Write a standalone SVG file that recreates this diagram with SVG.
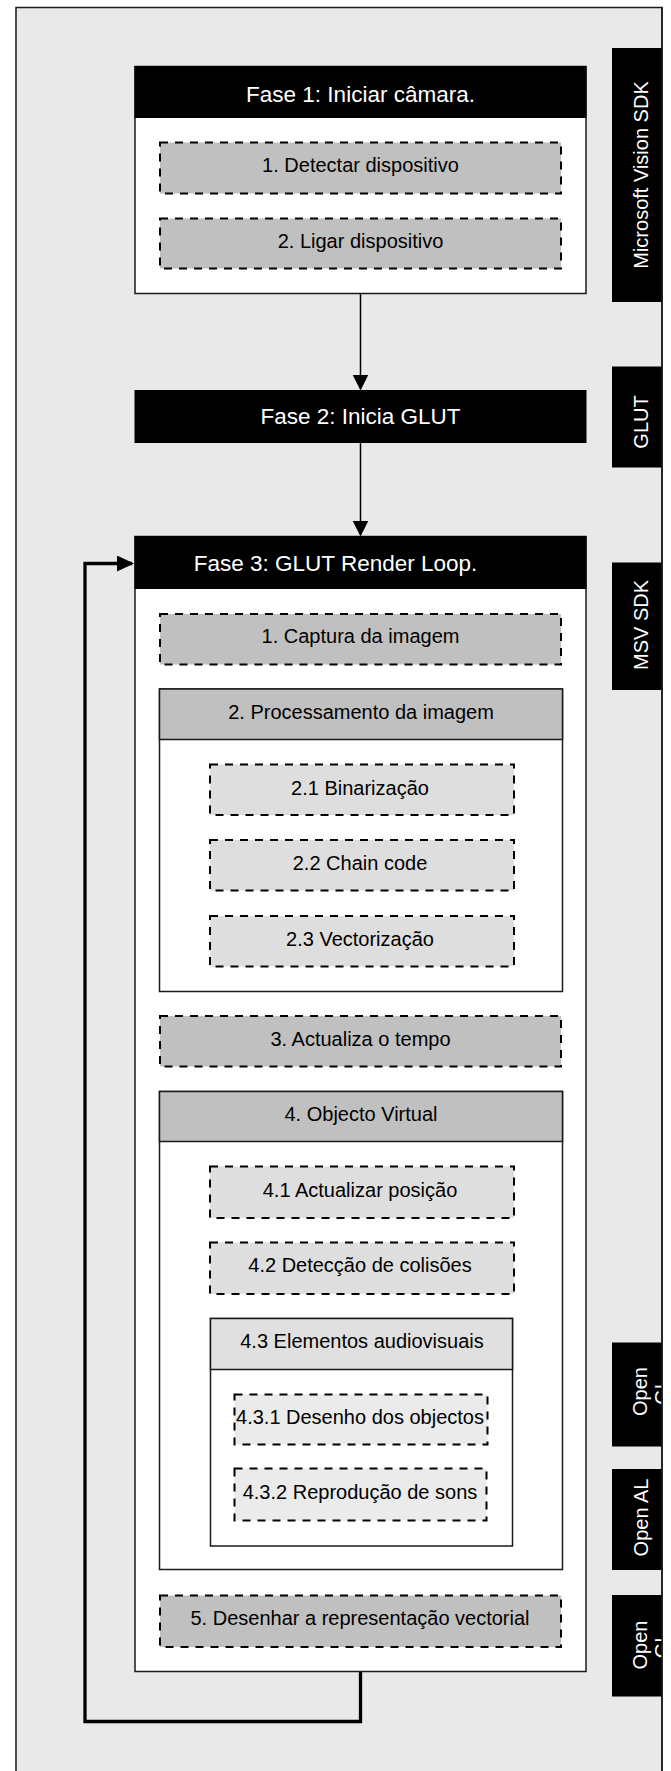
<svg xmlns="http://www.w3.org/2000/svg" width="671" height="1771" viewBox="0 0 671 1771">
<style>
text{font-family:"Liberation Sans",Arial,sans-serif;}
.hd{font-size:22.5px;fill:#fff;text-anchor:middle;}
.t{font-size:20px;fill:#000;text-anchor:middle;}
.side{font-size:20px;fill:#fff;text-anchor:middle;}
.box{fill:#fff;stroke:#1a1a1a;stroke-width:1.5;}
.blk{fill:#000;stroke:#000;stroke-width:1;}
.d1{fill:#c0c0c0;stroke:#000;stroke-width:2;stroke-dasharray:8 7;}
.d2{fill:#dedede;stroke:#000;stroke-width:2;stroke-dasharray:8 7;}
.d3{fill:#ebebeb;stroke:#000;stroke-width:2;stroke-dasharray:8 7;}
.gh{fill:#c0c0c0;stroke:#1a1a1a;stroke-width:1.5;}
.lh{fill:#e0e0e0;stroke:#1a1a1a;stroke-width:1.5;}
.sl{fill:#000;}
.conn{fill:none;stroke:#000;stroke-width:1.5;}
.loop{fill:none;stroke:#000;stroke-width:3.3;stroke-linejoin:miter;}
</style>
<defs>
<marker id="ah" markerUnits="userSpaceOnUse" markerWidth="16" markerHeight="16" refX="14" refY="8" orient="auto">
<path d="M0,0 L16,8 L0,16 Z" fill="#000"/>
</marker>
<marker id="ah2" markerUnits="userSpaceOnUse" markerWidth="17" markerHeight="16" refX="15" refY="8" orient="auto">
<path d="M0,0 L17,8 L0,16 Z" fill="#000"/>
</marker>
<clipPath id="rc"><rect x="0" y="0" width="662" height="1771"/></clipPath>
</defs>
<rect x="0" y="0" width="671" height="1771" fill="#fff"/>
<rect id="outer" x="16" y="7.5" width="646" height="1790" fill="#e9e9e9" stroke="#1a1a1a" stroke-width="1.5"/>

<g id="side-labels" clip-path="url(#rc)">
<g id="lbl-msvision"><rect class="sl" x="612" y="48" width="50" height="254"/><text class="side" transform="translate(647.5,175) rotate(-90)">Microsoft Vision SDK</text></g>
<g id="lbl-glut"><rect class="sl" x="612" y="366.5" width="50" height="101"/><text class="side" transform="translate(647.5,422) rotate(-90)">GLUT</text></g>
<g id="lbl-msvsdk"><rect class="sl" x="612" y="562.5" width="50" height="127.5"/><text class="side" transform="translate(647.5,625) rotate(-90)">MSV SDK</text></g>
<g id="lbl-opengl1"><rect class="sl" x="612" y="1342.5" width="50" height="104"/><text class="side" transform="translate(647,1391.5) rotate(-90)">Open</text><text class="side" transform="translate(668.5,1391.5) rotate(-90)">GL</text></g>
<g id="lbl-openal"><rect class="sl" x="612" y="1469" width="50" height="101"/><text class="side" transform="translate(647.5,1517.5) rotate(-90)">Open AL</text></g>
<g id="lbl-opengl2"><rect class="sl" x="612" y="1595" width="50" height="101.5"/><text class="side" transform="translate(647,1645) rotate(-90)">Open</text><text class="side" transform="translate(668.5,1645) rotate(-90)">GL</text></g>
</g>
<line x1="662" y1="7.5" x2="662" y2="1771" stroke="#1a1a1a" stroke-width="1.5"/>

<g id="connectors">
<path class="conn" d="M360.5,293.5 V388.5" marker-end="url(#ah)"/>
<path class="conn" d="M360.5,442.5 V534.5" marker-end="url(#ah)"/>
<path class="loop" d="M360.5,1671.5 V1721.5 H85 V563.5 H132" marker-end="url(#ah2)"/>
</g>

<g id="fase1">
<rect class="box" x="135" y="66.5" width="451" height="227"/>
<rect class="blk" x="135" y="66.5" width="451" height="51"/>
<text class="hd" x="360.5" y="101.5">Fase 1: Iniciar câmara.</text>
</g>
<g id="f1-detectar"><rect class="d1" x="160" y="142.5" width="401" height="51"/><text class="t" x="360.5" y="172">1. Detectar dispositivo</text></g>
<g id="f1-ligar"><rect class="d1" x="160" y="218.5" width="401" height="50"/><text class="t" x="360.5" y="247.5">2. Ligar dispositivo</text></g>

<g id="fase2">
<rect class="blk" x="135" y="390.5" width="451" height="52"/>
<text class="hd" x="360.5" y="424">Fase 2: Inicia GLUT</text>
</g>

<g id="fase3">
<rect class="box" x="135" y="536.5" width="451" height="1135"/>
<rect class="blk" x="135" y="536.5" width="451" height="52"/>
<text class="hd" x="335.5" y="570.5">Fase 3: GLUT Render Loop.</text>
</g>
<g id="f3-captura"><rect class="d1" x="160" y="614" width="401" height="50.5"/><text class="t" x="360.5" y="643">1. Captura da imagem</text></g>

<g id="f3-processamento">
<rect class="box" x="159.5" y="689" width="403" height="302.5"/>
<rect class="gh" x="159.5" y="689" width="403" height="50.5"/>
<text class="t" x="361" y="718.5">2. Processamento da imagem</text>
</g>
<g id="p-binarizacao"><rect class="d2" x="210" y="764.5" width="304" height="50.5"/><text class="t" x="360" y="794.5">2.1 Binarização</text></g>
<g id="p-chaincode"><rect class="d2" x="210" y="840" width="304" height="50.5"/><text class="t" x="360" y="870">2.2 Chain code</text></g>
<g id="p-vectorizacao"><rect class="d2" x="210" y="916" width="304" height="50.5"/><text class="t" x="360" y="946">2.3 Vectorização</text></g>

<g id="f3-tempo"><rect class="d1" x="160" y="1016" width="401" height="50.5"/><text class="t" x="360.5" y="1045.5">3. Actualiza o tempo</text></g>

<g id="f3-objecto">
<rect class="box" x="159.5" y="1091.5" width="403" height="478"/>
<rect class="gh" x="159.5" y="1091.5" width="403" height="50"/>
<text class="t" x="361" y="1120.5">4. Objecto Virtual</text>
</g>
<g id="o-posicao"><rect class="d2" x="210" y="1166.5" width="304" height="51.5"/><text class="t" x="360" y="1196.5">4.1 Actualizar posição</text></g>
<g id="o-colisoes"><rect class="d2" x="210" y="1242.5" width="304" height="51.5"/><text class="t" x="360" y="1272">4.2 Detecção de colisões</text></g>

<g id="o-audiovisuais">
<rect class="box" x="210.5" y="1318.5" width="302" height="227.5"/>
<rect class="lh" x="210.5" y="1318.5" width="302" height="51"/>
<text class="t" x="362" y="1348">4.3 Elementos audiovisuais</text>
</g>
<g id="a-desenho"><rect class="d3" x="234.5" y="1394.5" width="253" height="50"/><text class="t" x="360" y="1424">4.3.1 Desenho dos objectos</text></g>
<g id="a-sons"><rect class="d3" x="234.5" y="1468.5" width="252" height="52"/><text class="t" x="360" y="1499">4.3.2 Reprodução de sons</text></g>

<g id="f3-desenhar"><rect class="d1" x="160" y="1595.5" width="401" height="51.5"/><text class="t" x="360" y="1624.5">5. Desenhar a representação vectorial</text></g>
</svg>
